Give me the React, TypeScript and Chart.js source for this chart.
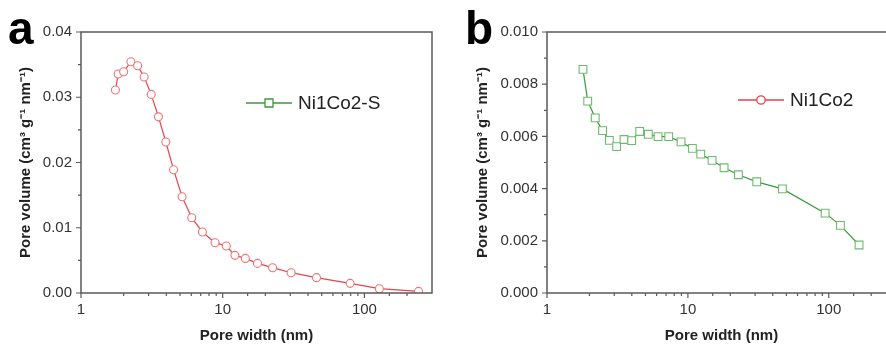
import React, { useEffect, useRef } from 'react';
import { Chart, registerables } from 'chart.js';

Chart.register(...registerables);

const FONT = '"Liberation Sans", Arial, Helvetica, sans-serif';

// Panel a: Ni1Co2-S (red circles)
const poreWidthA = [1.75, 1.83, 2.0, 2.25, 2.51, 2.79, 3.13, 3.52, 3.97, 4.5, 5.17, 6.05, 7.19, 8.83, 10.6, 12.2, 14.45, 17.6, 22.5, 30.4, 45.9, 79.3, 127.6, 241];
const poreVolumeA = [0.0311, 0.03356, 0.0339, 0.03545, 0.03483, 0.0331, 0.03044, 0.027, 0.02314, 0.0189, 0.01476, 0.01154, 0.00935, 0.00771, 0.0072, 0.00577, 0.0053, 0.00454, 0.00388, 0.00311, 0.00235, 0.00148, 0.00066, 0.00025];

// Panel b: Ni1Co2 (green squares)
const poreWidthB = [1.8, 1.945, 2.2, 2.48, 2.77, 3.12, 3.52, 3.99, 4.55, 5.24, 6.14, 7.31, 8.94, 10.76, 12.34, 14.85, 18.07, 22.84, 30.8, 46.9, 94.2, 121, 164];
const poreVolumeB = [0.00857, 0.00735, 0.00671, 0.00622, 0.00585, 0.00561, 0.00588, 0.00584, 0.00619, 0.00608, 0.00599, 0.00599, 0.00579, 0.00554, 0.00532, 0.00508, 0.0048, 0.00453, 0.00426, 0.00399, 0.00306, 0.00259, 0.00184];

const xMajorTicks = [1, 10, 100];
const xRange = [1, 300];
const yRangeA = [0, 0.04];
const yRangeB = [0, 0.01];
const legendA = 'Ni1Co2-S';
const legendB = 'Ni1Co2';
const xTitle = 'Pore width (nm)';
const yTitle = 'Pore volume (cm\u00B3 g\u207B\u00B9 nm\u207B\u00B9)';

const RED = '#e2454b';
const RED_PT = '#ee7479';
const GREEN = '#3a9a3a';
const GREEN_PT = '#6dbb6d';
const FRAME = '#5a5a5a';
const TEXT = '#333333';

type PanelCfg = {
  letter: string;
  xs: number[];
  ys: number[];
  yRange: number[];
  yStep: number;
  decimals: number;
  lineColor: string;
  pointColor: string;
  pointStyle: string;
  pointRadius: number;
  legendText: string;
  legendColor: string;
  legendStyle: 'rect' | 'circle';
  width: number;
  axisWidth: number;
  padRight: number;
  titlePad: number;
  letterX: number;
  legendDx: number;
  legendDy: number;
};

const framePlugin = {
  id: 'frameTicks',
  afterDraw(chart: any) {
    const cfg: PanelCfg = chart.options.plugins.frameTicks.cfg;
    const { ctx, chartArea } = chart;
    const { left, right, top, bottom } = chartArea;
    const xs = chart.scales.x;
    const ys = chart.scales.y;
    ctx.save();
    ctx.strokeStyle = FRAME;
    ctx.lineWidth = 1.5;
    ctx.strokeRect(left, top, right - left, bottom - top);
    ctx.lineWidth = 1.2;
    ctx.beginPath();
    xs.ticks.forEach((t: any) => {
      const v = t.value;
      const px = xs.getPixelForValue(v);
      if (px < left - 0.5 || px > right - 1) return;
      const lg = Math.log10(v);
      const major = Math.abs(lg - Math.round(lg)) < 1e-9;
      const len = major ? 5 : 3;
      ctx.moveTo(px, bottom);
      ctx.lineTo(px, bottom + len);
    });
    ys.ticks.forEach((t: any) => {
      const py = ys.getPixelForValue(t.value);
      const major = Math.round(t.value / cfg.yStep) % 2 === 0;
      const len = major ? 5 : 3;
      ctx.moveTo(left - len, py);
      ctx.lineTo(left, py);
    });
    ctx.stroke();

    // panel letter
    ctx.fillStyle = '#000';
    ctx.font = `bold 46px ${FONT}`;
    ctx.textBaseline = 'alphabetic';
    ctx.textAlign = 'left';
    ctx.fillText(cfg.letter, cfg.letterX, 44);

    // legend
    const lx = left + cfg.legendDx;
    const ly = top + cfg.legendDy;
    ctx.strokeStyle = cfg.legendColor;
    ctx.lineWidth = 1.3;
    ctx.beginPath();
    ctx.moveTo(lx, ly);
    ctx.lineTo(lx + 46, ly);
    ctx.stroke();
    ctx.fillStyle = '#fff';
    ctx.lineWidth = 1.3;
    ctx.beginPath();
    if (cfg.legendStyle === 'rect') {
      ctx.rect(lx + 23 - 4, ly - 4, 8, 8);
    } else {
      ctx.arc(lx + 23, ly, 4.2, 0, Math.PI * 2);
    }
    ctx.fill();
    ctx.stroke();
    ctx.fillStyle = '#222';
    ctx.font = `19px ${FONT}`;
    ctx.textBaseline = 'middle';
    ctx.fillText(cfg.legendText, lx + 52, ly + 1);
    ctx.restore();
  },
};

function makeChart(canvas: HTMLCanvasElement, cfg: PanelCfg) {
  const data = cfg.xs.map((x, i) => ({ x, y: cfg.ys[i] }));
  return new Chart(canvas, {
    type: 'scatter',
    data: {
      datasets: [
        {
          label: cfg.legendText,
          data,
          showLine: true,
          borderColor: cfg.lineColor,
          borderWidth: 1.2,
          pointStyle: cfg.pointStyle as any,
          pointRadius: cfg.pointRadius,
          pointBorderColor: cfg.pointColor,
          pointBackgroundColor: '#ffffff',
          pointBorderWidth: 1.1,
          tension: 0,
        },
      ],
    },
    options: {
      responsive: false,
      animation: false,
      devicePixelRatio: 1,
      layout: { padding: { left: 0, top: 32, right: cfg.padRight, bottom: 0 } },
      plugins: {
        legend: { display: false },
        tooltip: { enabled: false },
        frameTicks: { cfg },
      } as any,
      scales: {
        x: {
          type: 'logarithmic',
          min: xRange[0],
          max: xRange[1],
          afterFit: (s: any) => {
            s.height = 54;
          },
          grid: { display: true, drawOnChartArea: false, drawTicks: true, tickLength: 6, color: 'rgba(0,0,0,0)' },
          border: { display: false },
          ticks: {
            autoSkip: false,
            maxRotation: 0,
            padding: 2,
            color: TEXT,
            font: { family: FONT, size: 15 },
            callback: (v: any) => {
              const n = Number(v);
              return xMajorTicks.some((m) => Math.abs(m - n) < 1e-9) ? String(n) : '';
            },
          },
          title: {
            display: true,
            text: xTitle,
            color: '#222',
            font: { family: FONT, size: 15, weight: 'bold' },
            padding: { top: 0, bottom: 2 },
          },
        },
        y: {
          type: 'linear',
          min: cfg.yRange[0],
          max: cfg.yRange[1],
          afterFit: (s: any) => {
            s.width = cfg.axisWidth;
          },
          grid: { display: true, drawOnChartArea: false, drawTicks: true, tickLength: 6, color: 'rgba(0,0,0,0)' },
          border: { display: false },
          ticks: {
            stepSize: cfg.yStep,
            autoSkip: false,
            padding: 3,
            color: TEXT,
            font: { family: FONT, size: 15 },
            callback: (v: any) => {
              const n = Number(v);
              return Math.round(n / cfg.yStep) % 2 === 0 ? n.toFixed(cfg.decimals) : '';
            },
          },
          title: {
            display: true,
            text: yTitle,
            color: '#222',
            font: { family: FONT, size: 15, weight: 'bold' },
            padding: { top: cfg.titlePad, bottom: 0 },
          },
        },
      },
    },
    plugins: [framePlugin],
  } as any);
}

const cfgA: PanelCfg = {
  letter: 'a',
  xs: poreWidthA,
  ys: poreVolumeA,
  yRange: yRangeA,
  yStep: 0.005,
  decimals: 2,
  lineColor: RED,
  pointColor: RED_PT,
  pointStyle: 'circle',
  pointRadius: 4,
  legendText: legendA,
  legendColor: GREEN,
  legendStyle: 'rect',
  width: 443,
  axisWidth: 81,
  padRight: 11,
  titlePad: 17,
  letterX: 8,
  legendDx: 165,
  legendDy: 71,
};

const cfgB: PanelCfg = {
  letter: 'b',
  xs: poreWidthB,
  ys: poreVolumeB,
  yRange: yRangeB,
  yStep: 0.001,
  decimals: 3,
  lineColor: GREEN,
  pointColor: GREEN_PT,
  pointStyle: 'rect',
  pointRadius: 5.5,
  legendText: legendB,
  legendColor: RED,
  legendStyle: 'circle',
  width: 470,
  axisWidth: 104,
  padRight: 17,
  titlePad: 31,
  letterX: 22,
  legendDx: 191,
  legendDy: 68,
};

export default function App() {
  const refA = useRef<HTMLCanvasElement>(null);
  const refB = useRef<HTMLCanvasElement>(null);
  useEffect(() => {
    const a = makeChart(refA.current!, cfgA);
    const b = makeChart(refB.current!, cfgB);
    return () => {
      a.destroy();
      b.destroy();
    };
  }, []);
  return (
    <div
      style={{
        position: 'fixed',
        left: 0,
        top: 0,
        width: 886,
        height: 347,
        overflow: 'hidden',
        background: '#fff',
      }}
    >
      <canvas ref={refA} width={443} height={347} style={{ position: 'absolute', left: 0, top: 0 }} />
      <canvas ref={refB} width={470} height={347} style={{ position: 'absolute', left: 443, top: 0 }} />
    </div>
  );
}
